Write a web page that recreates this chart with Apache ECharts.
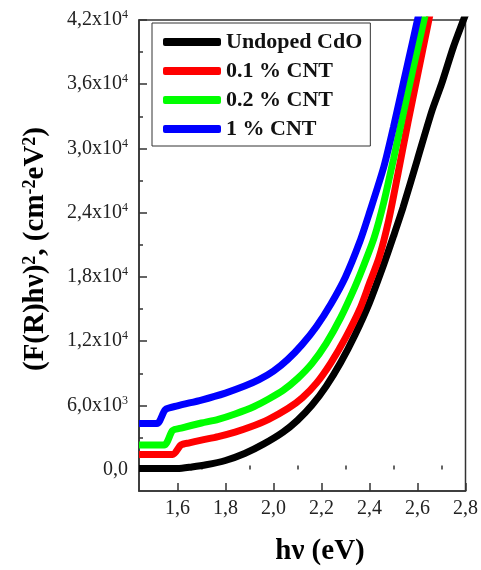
<!DOCTYPE html>
<html>
<head>
<meta charset="utf-8">
<script src="https://cdn.jsdelivr.net/npm/echarts@6/dist/echarts.min.js"></script>
<style>html,body{margin:0;padding:0;background:#fff}#c{width:481px;height:570px}</style>
</head>
<body>
<div id="c"></div>
<script>
const seriesNames = ['Undoped CdO', '0.1 % CNT', '0.2 % CNT', '1 % CNT'];
const colors = ['#000000', '#ff0000', '#00ff00', '#0000ff'];

const xBlack = [1.44,1.60,1.66,1.72,1.80,1.88,1.96,2.04,2.10,2.16,2.22,2.28,2.34,2.40,2.46,2.50,2.54,2.60,2.66,2.70,2.75,2.80];
const yBlack = [100,100,250,450,850,1500,2400,3500,4600,6000,7800,10000,12600,15600,19200,21800,24500,29000,33500,36000,39500,42500];

const xRed = [1.44,1.58,1.615,1.65,1.70,1.77,1.84,1.90,1.98,2.06,2.12,2.18,2.24,2.30,2.36,2.40,2.44,2.48,2.52,2.56,2.60,2.64,2.67];
const yRed = [1400,1400,2300,2500,2750,3080,3500,3950,4700,5700,6700,8100,10000,12300,15000,17400,19800,23300,27800,32400,36800,41200,44500];

const xGreen = [1.44,1.545,1.58,1.62,1.70,1.77,1.84,1.92,1.98,2.04,2.10,2.16,2.22,2.28,2.34,2.38,2.42,2.46,2.50,2.54,2.58,2.62,2.65];
const yGreen = [2300,2300,3650,3900,4350,4700,5200,5900,6600,7400,8500,9900,11800,14200,17100,19300,21700,25000,29000,33200,37300,41300,44300];

const xBlue = [1.44,1.515,1.55,1.60,1.70,1.80,1.88,1.94,2.00,2.06,2.12,2.18,2.24,2.30,2.36,2.40,2.46,2.50,2.54,2.58,2.61];
const yBlue = [4300,4300,5600,5950,6500,7150,7800,8400,9200,10300,11700,13400,15500,18000,21300,24000,28300,32000,36000,40000,43000];

const xTicks = [1.6,1.8,2.0,2.2,2.4,2.6,2.8];
const xMinorTicks = [1.5,1.7,1.9,2.1,2.3,2.5,2.7];
const yTicks = [0,6000,12000,18000,24000,30000,36000,42000];
const yMinorTicks = [3000,9000,15000,21000,27000,33000,39000];

const xs = [xBlack, xRed, xGreen, xBlue];
const ys = [yBlack, yRed, yGreen, yBlue];

const FONT = '"Liberation Serif", "Times New Roman", serif';
const AX = '#333';

function yFmt(v) {
  if (v === 0) return '{m|0,0}';
  const e = v >= 10000 ? 4 : 3;
  const mant = (v / Math.pow(10, e)).toFixed(1).replace('.', ',');
  return '{m|' + mant + 'x10}{s|' + e + '}';
}

const chart = echarts.init(document.getElementById('c'), null, {renderer: 'canvas'});
const option = {
  animation: false,
  backgroundColor: '#fff',
  grid: {left: 139, right: 14, top: 20, bottom: 79, show: true, borderColor: AX, borderWidth: 1.5, backgroundColor: 'transparent'},
  legend: {
    data: seriesNames,
    orient: 'vertical',
    left: 152, top: 23,
    padding: [8, 8, 6, 11],
    itemWidth: 58, itemHeight: 8, itemGap: 7,
    icon: 'roundRect',
    borderColor: '#333', borderWidth: 1,
    textStyle: {fontFamily: FONT, fontWeight: 'bold', fontSize: 22, color: '#111', lineHeight: 21}
  },
  xAxis: [{
    type: 'value', min: 1.44, max: 2.8,
    axisLine: {show: true, onZero: false, lineStyle: {color: AX, width: 1.5}},
    splitLine: {show: false},
    axisTick: {show: true, inside: true, length: 8, customValues: xTicks, lineStyle: {color: AX, width: 1.5}},
    axisLabel: {customValues: xTicks, margin: 8, fontFamily: FONT, fontSize: 20, color: '#222',
      formatter: v => v.toFixed(1).replace('.', ',')}
  }, {
    type: 'value', min: 1.44, max: 2.8, position: 'bottom',
    axisLine: {show: false}, splitLine: {show: false},
    axisTick: {show: true, inside: true, length: 4, customValues: xMinorTicks, lineStyle: {color: AX, width: 1.5}},
    axisLabel: {show: false}
  }],
  yAxis: [{
    type: 'value', min: -2000, max: 42000,
    axisLine: {show: true, onZero: false, lineStyle: {color: AX, width: 1.5}},
    splitLine: {show: false},
    axisTick: {show: true, inside: true, length: 8, customValues: yTicks, lineStyle: {color: AX, width: 1.5}},
    axisLabel: {customValues: yTicks, margin: 11, formatter: yFmt,
      rich: {
        m: {fontFamily: FONT, fontSize: 20, color: '#222', lineHeight: 22},
        s: {fontFamily: FONT, fontSize: 12, color: '#222', verticalAlign: 'top'}
      }}
  }, {
    type: 'value', min: -2000, max: 42000, position: 'left',
    axisLine: {show: false}, splitLine: {show: false},
    axisTick: {show: true, inside: true, length: 4, customValues: yMinorTicks, lineStyle: {color: AX, width: 1.5}},
    axisLabel: {show: false}
  }],
  graphic: [{
    type: 'text', x: 36, y: 249, rotation: Math.PI / 2,
    style: {
      text: '{b|(F(R)hν)}{s|2}{b|, (cm}{s|-2}{b|eV}{s|2}{b|)}',
      align: 'center', verticalAlign: 'middle',
      rich: {
        b: {fontFamily: FONT, fontWeight: 'bold', fontSize: 29, fill: '#000', lineHeight: 30},
        s: {fontFamily: FONT, fontWeight: 'bold', fontSize: 18, fill: '#000', verticalAlign: 'top'}
      }
    }
  }, {
    type: 'text', x: 320, y: 552,
    style: {text: 'hν (eV)', align: 'center', verticalAlign: 'middle',
      fontFamily: FONT, fontWeight: 'bold', fontSize: 29, fill: '#000'}
  }],
  series: seriesNames.map((name, i) => ({
    name: name, type: 'line', xAxisIndex: 0, yAxisIndex: 0,
    data: xs[i].map((x, j) => [x, ys[i][j]]),
    showSymbol: false, smooth: 0.25,
    lineStyle: {color: colors[i], width: 7},
    itemStyle: {color: colors[i]},
    clip: true
  }))
};
chart.setOption(option);
</script>
</body>
</html>
